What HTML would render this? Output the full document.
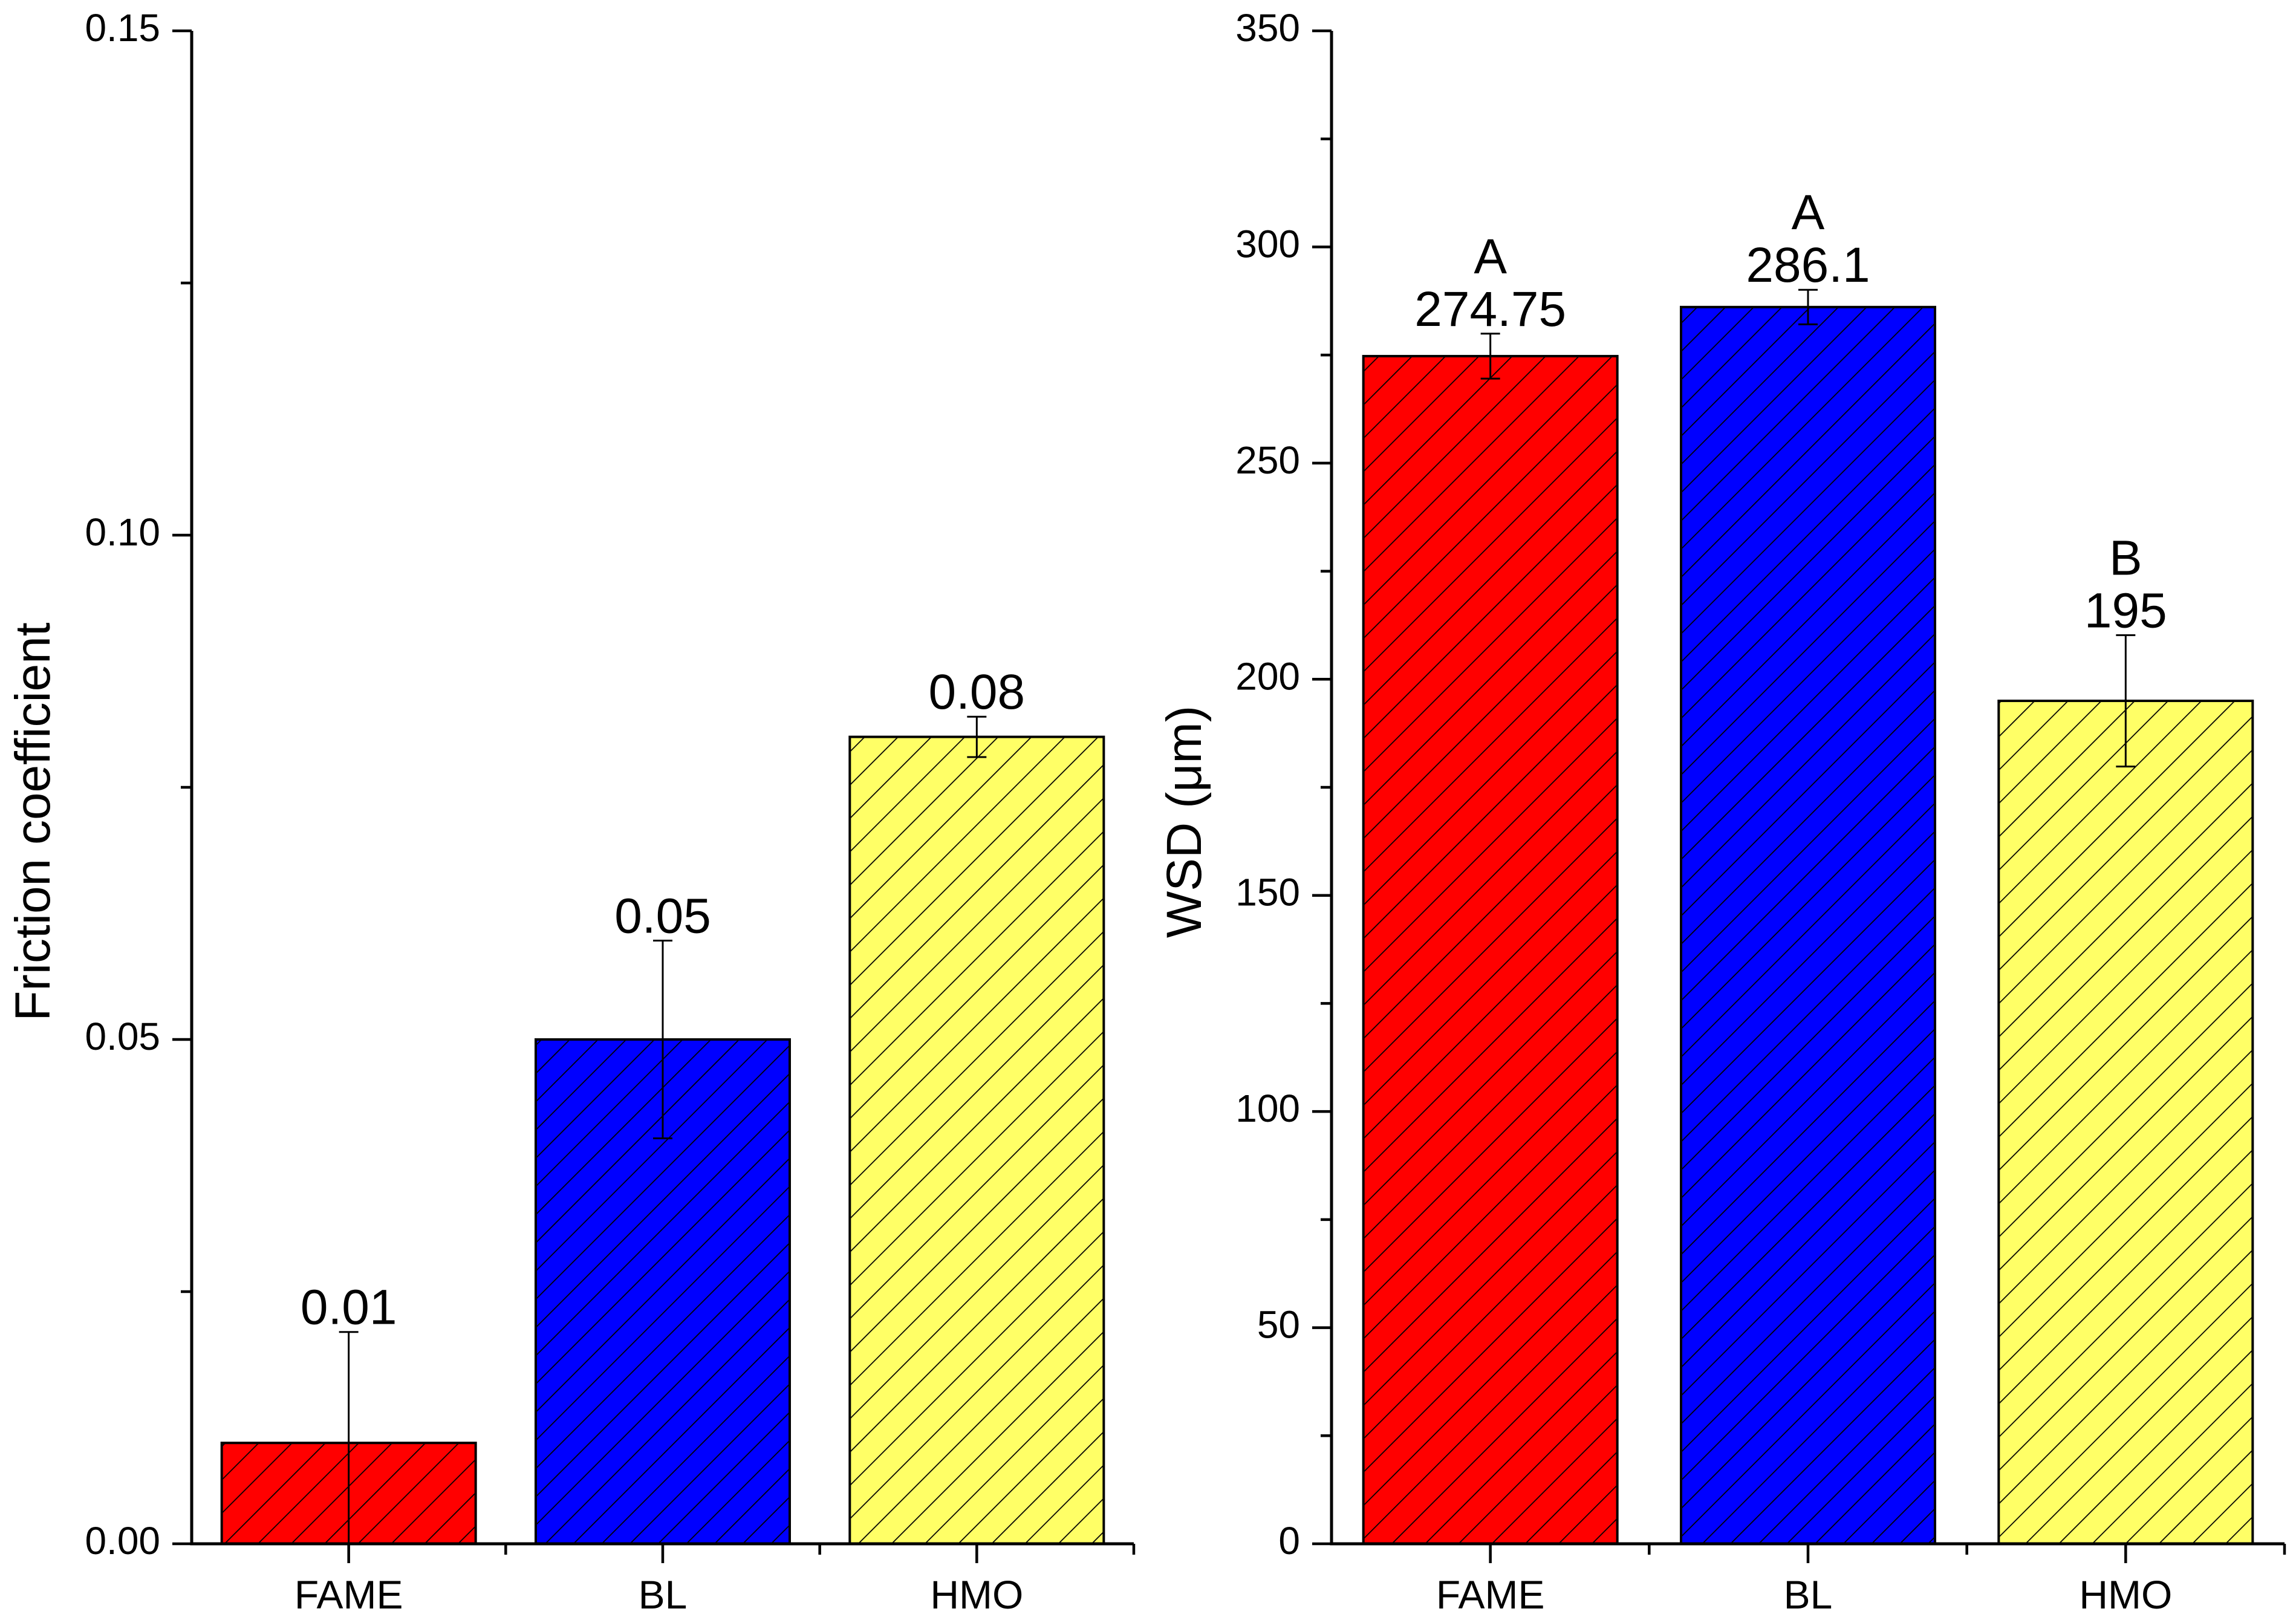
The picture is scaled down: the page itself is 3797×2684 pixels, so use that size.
<!DOCTYPE html>
<html><head><meta charset="utf-8"><style>html,body{margin:0;padding:0;background:#fff}svg{display:block}text{font-family:"Liberation Sans",Arial,sans-serif;fill:#000}</style></head>
<body>
<svg id="chart" width="3797" height="2684" viewBox="0 0 3797 2684" xmlns="http://www.w3.org/2000/svg">
<defs>
<pattern id="hatchR" patternUnits="userSpaceOnUse" width="39" height="39" patternTransform="rotate(45)"><rect width="39" height="39" fill="#ff0000"/><line x1="0" y1="0" x2="0" y2="39" stroke="#000" stroke-width="3.5"/></pattern>
<pattern id="hatchB" patternUnits="userSpaceOnUse" width="33" height="33" patternTransform="rotate(45)"><rect width="33" height="33" fill="#0000ff"/><line x1="0" y1="0" x2="0" y2="33" stroke="#000" stroke-width="3.5"/></pattern>
<pattern id="hatchY" patternUnits="userSpaceOnUse" width="39" height="39" patternTransform="rotate(45)"><rect width="39" height="39" fill="#ffff66"/><line x1="0" y1="0" x2="0" y2="39" stroke="#000" stroke-width="3.5"/></pattern>
</defs>
</svg>
<script>
const categories = ["FAME", "BL", "HMO"];
const frictionValues = [0.01, 0.05, 0.08];
const frictionErrors = [0.011, 0.0098, 0.002];
const frictionLabels = ["0.01", "0.05", "0.08"];
const frictionTicks = [0, 0.05, 0.10, 0.15];
const frictionTickLabels = ["0.00", "0.05", "0.10", "0.15"];
const wsdValues = [274.75, 286.1, 195];
const wsdErrors = [5.2, 4, 15.2];
const wsdLabels = ["274.75", "286.1", "195"];
const wsdLetters = ["A", "A", "B"];
const wsdTicks = [0, 50, 100, 150, 200, 250, 300, 350];
const wsdTickLabels = ["0", "50", "100", "150", "200", "250", "300", "350"];
const fills = ["url(#hatchR)", "url(#hatchB)", "url(#hatchY)"];

const svg = document.getElementById('chart');
const NS = "http://www.w3.org/2000/svg";
function mk(tag, attrs, parent) {
  const e = document.createElementNS(NS, tag);
  for (const k in attrs) e.setAttribute(k, attrs[k]);
  (parent || svg).appendChild(e);
  return e;
}
function txt(parent, x, y, size, anchor, str, rot) {
  const t = mk('text', {x: 0, y: 0, 'font-size': size, 'text-anchor': anchor,
    transform: `translate(${x},${y})${rot ? ' rotate(-90)' : ''}`}, parent);
  t.textContent = str;
  return t;
}

function panel(opt) {
  const g = mk('g', {});
  
  
  const x0 = opt.x0, x1 = opt.x1, yTop = 51, yBot = 2553;
  const y = v => yBot - (v - opt.min) / (opt.max - opt.min) * (yBot - yTop);
  const band = (x1 - x0) / categories.length;
  const xc = i => x0 + band * (i + 0.5);
  const bw = 420;
  opt.values.forEach((v, i) => {
    const r = mk('rect', {x: xc(i) - bw / 2, y: y(v), width: bw, height: yBot - y(v), fill: fills[i], stroke: '#000', 'stroke-width': 4}, g);
    
    
    const top = y(v + opt.errors[i]);
    const bot = Math.min(yBot, y(v - opt.errors[i]));
    const eb = mk('path', {d: `M${xc(i)},${top}V${bot}M${xc(i)-16},${top}H${xc(i)+16}M${xc(i)-16},${bot}H${xc(i)+16}`, stroke: '#000', 'stroke-width': 3, fill: 'none'}, g);
    
    
    const t = txt(g, xc(i), top - 13, 82, 'middle', opt.labels[i]);
    
    
    if (opt.letters) {
      const l = txt(g, xc(i), top - 100, 82, 'middle', opt.letters[i]);
      
      
    }
    const c = txt(g, xc(i), 2660, 66, 'middle', categories[i]);
    
    
    const tk = mk('line', {x1: xc(i), x2: xc(i), y1: yBot, y2: yBot + 32, stroke: '#000', 'stroke-width': 4.5}, g);
    
    
  });
  for (let i = 1; i <= categories.length; i++) {
    const tk = mk('line', {x1: x0 + band * i, x2: x0 + band * i, y1: yBot, y2: yBot + 18, stroke: '#000', 'stroke-width': 4.5}, g);
    
    
  }
  const ax = mk('path', {d: `M${x0},${yTop}V${yBot}H${x1}`, stroke: '#000', 'stroke-width': 5, fill: 'none'}, g);
  
  
  opt.ticks.forEach((v, i) => {
    const tk = mk('line', {x1: x0 - 32, x2: x0, y1: y(v), y2: y(v), stroke: '#000', 'stroke-width': 4.5}, g);
    
    
    if (i < opt.ticks.length - 1) {
      const mv = (v + opt.ticks[i + 1]) / 2;
      const mt = mk('line', {x1: x0 - 18, x2: x0, y1: y(mv), y2: y(mv), stroke: '#000', 'stroke-width': 4.5}, g);
      
      
    }
    const t = txt(g, x0 - 52, y(v) + 17, 64, 'end', opt.tickLabels[i]);
    
    
  });
  const tt = txt(g, opt.titleX, opt.titleY, 82, 'middle', opt.title, true);
  
  
}

panel({name: 'friction-panel', x0: 317, x1: 1875, min: 0, max: 0.15, values: frictionValues, errors: frictionErrors, labels: frictionLabels, ticks: frictionTicks, tickLabels: frictionTickLabels, title: 'Friction coefficient', titleX: 82, titleY: 1359});
panel({name: 'wsd-panel', x0: 2202, x1: 3778, min: 0, max: 350, values: wsdValues, errors: wsdErrors, labels: wsdLabels, letters: wsdLetters, ticks: wsdTicks, tickLabels: wsdTickLabels, title: 'WSD (\u03bcm)', titleX: 1986, titleY: 1359});
</script>
</body></html>
